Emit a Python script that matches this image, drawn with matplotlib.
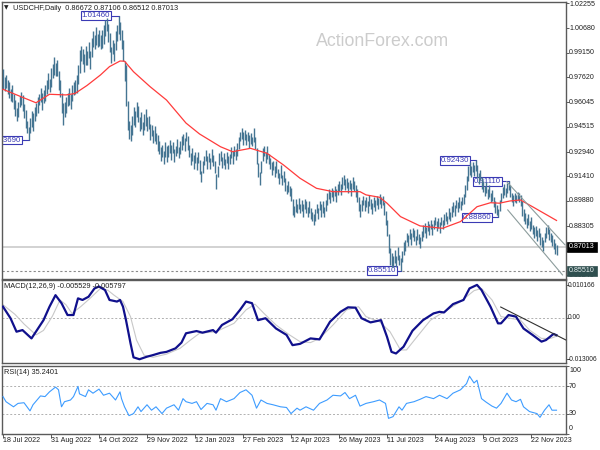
import numpy as np
import matplotlib
matplotlib.use("Agg")
import matplotlib.pyplot as plt

plt.rcParams['font.family'] = ['Liberation Sans', 'DejaVu Sans']

# ---------------- data (prices in 1e-4 units) ----------------
bar_mid_pips = [
    9750, 9720, 9735, 9700, 9680, 9650, 9660, 9610, 9570, 9530,
    9560, 9610, 9630, 9600, 9550, 9500, 9450, 9410, 9460, 9500,
    9480, 9530, 9560, 9590, 9620, 9650, 9610, 9640, 9660, 9700,
    9740, 9710, 9760, 9800, 9830, 9810, 9820, 9740, 9690, 9600,
    9530, 9560, 9590, 9620, 9640, 9610, 9660, 9690, 9700, 9720,
    9780, 9860, 9910, 9890, 9850, 9900, 9880, 9930, 9870, 9950,
    10000, 9980, 10020, 9990, 10010, 9980, 10000, 10030, 10070, 10090,
    10040, 9980, 9900, 9950, 9920, 9990, 10040, 10090, 10050, 10000,
    9930, 9800, 9710, 9520, 9430, 9410, 9460, 9520, 9500, 9560,
    9530, 9470, 9490, 9440, 9480, 9510, 9470, 9480, 9420, 9430,
    9390, 9410, 9380, 9350, 9320, 9280, 9300, 9260, 9310, 9280,
    9300, 9330, 9290, 9320, 9270, 9300, 9330, 9290, 9320, 9350,
    9370, 9340, 9390, 9350, 9300, 9250, 9280, 9230, 9260, 9220,
    9260, 9200, 9140, 9200, 9240, 9270, 9230, 9260, 9220, 9270,
    9240, 9200, 9110, 9170, 9250, 9270, 9230, 9250, 9220, 9260,
    9230, 9250, 9290, 9260, 9300, 9280, 9310, 9350, 9390, 9410,
    9380, 9400, 9370, 9390, 9360, 9380, 9360, 9400, 9350, 9270,
    9180, 9130, 9200, 9280, 9300, 9260, 9290, 9250, 9220, 9190,
    9210, 9170, 9200, 9160, 9130, 9170, 9120, 9140, 9090, 9060,
    9080, 9050, 9030, 8950, 8920, 8960, 8940, 8970, 8940, 8960,
    8930, 8970, 8950, 8920, 8950, 8910, 8890, 8870, 8900, 8940,
    8910, 8960, 8930, 8950, 8920, 8960, 9000, 9030, 9010, 9040,
    9020, 9050, 9020, 9060, 9080, 9060, 9100, 9120, 9090, 9100,
    9070, 9090, 9060, 9100, 9080, 9050, 9020, 8970, 8930, 8960,
    8990, 8960, 8980, 8950, 8990, 8970, 8940, 8980, 8960, 8990,
    8970, 9000, 8980, 8990, 8940, 8880, 8820, 8720, 8640, 8620,
    8610, 8640, 8610, 8660, 8620, 8590, 8640, 8690, 8710, 8760,
    8740, 8780, 8750, 8790, 8770, 8740, 8780, 8750, 8730, 8770,
    8800, 8820, 8790, 8830, 8810, 8840, 8810, 8840, 8860, 8830,
    8850, 8820, 8860, 8840, 8870, 8890, 8870, 8910, 8890, 8920,
    8950, 8930, 8970, 8950, 8980, 8960, 8990, 9000, 9050, 9100,
    9160, 9190, 9170, 9200, 9180, 9210, 9170, 9130, 9150, 9100,
    9080, 9050, 9070, 9030, 9050, 9010, 9020, 8980, 8950, 8930,
    8910, 8960, 9010, 9040, 9060, 9040, 9070, 9085, 9050, 9010,
    8990, 9010, 9000, 9020, 9010, 8990, 8940, 8900, 8880, 8850,
    8870, 8830, 8850, 8810, 8790, 8800, 8770, 8790, 8750, 8730,
    8710, 8760, 8790, 8810, 8780, 8760, 8740, 8720, 8690, 8681,
]
bar_range_pips = [
    120, 90, 80, 90, 100, 80, 110, 90, 100, 80,
    90, 70, 80, 100, 90, 110, 80, 80, 90, 100,
    110, 90, 80, 100, 70, 90, 110, 80, 100, 90,
    100, 80, 120, 90, 110, 80, 100, 120, 110, 130,
    140, 90, 100, 80, 110, 90, 100, 80, 90, 110,
    120, 140, 100, 90, 110, 120, 90, 100, 110, 120,
    100, 90, 110, 80, 100, 90, 110, 120, 100, 80,
    110, 120, 100, 90, 110, 120, 100, 112, 110, 120,
    130, 130, 260, 180, 110, 100, 120, 110, 100, 90,
    100, 90, 110, 80, 100, 110, 90, 80, 100, 70,
    80, 90, 70, 100, 80, 90, 70, 80, 90, 100,
    70, 80, 90, 70, 80, 60, 90, 70, 80, 90,
    70, 80, 60, 90, 80, 70, 80, 90, 70, 80,
    70, 90, 70, 80, 60, 70, 80, 60, 70, 80,
    70, 80, 90, 70, 80, 60, 70, 80, 60, 70,
    80, 60, 70, 80, 60, 70, 80, 70, 60, 70,
    80, 60, 70, 60, 80, 70, 60, 90, 80, 100,
    90, 80, 70, 80, 60, 70, 80, 60, 70, 80,
    60, 70, 80, 60, 70, 80, 60, 70, 80, 60,
    70, 60, 80, 100, 70, 80, 60, 70, 60, 70,
    80, 60, 70, 60, 80, 70, 60, 70, 80, 60,
    70, 60, 80, 70, 60, 70, 80, 60, 70, 60,
    70, 60, 80, 70, 60, 70, 80, 60, 70, 60,
    70, 60, 80, 70, 60, 70, 80, 90, 80, 70,
    60, 70, 60, 80, 70, 60, 70, 60, 70, 60,
    70, 60, 70, 60, 80, 90, 100, 120, 110, 90,
    70, 80, 70, 80, 60, 78, 70, 80, 70, 60,
    70, 60, 70, 60, 70, 60, 70, 60, 70, 60,
    70, 60, 70, 60, 70, 60, 70, 60, 50, 60,
    60, 70, 50, 60, 70, 60, 50, 70, 60, 70,
    60, 70, 50, 60, 70, 60, 50, 60, 80, 90,
    90, 80, 70, 60, 70, 66, 80, 70, 60, 80,
    70, 60, 70, 60, 70, 60, 70, 60, 70, 60,
    50, 70, 60, 70, 70, 60, 60, 52, 70, 60,
    70, 60, 50, 50, 60, 70, 90, 80, 70, 60,
    70, 60, 70, 60, 70, 60, 70, 60, 70, 60,
    70, 60, 70, 60, 70, 60, 70, 60, 70, 59,
]

ema_idx = [0, 12, 22, 31, 42, 48, 56, 65, 71, 78, 81, 87, 98, 109, 122, 131,
           145, 153, 165, 176, 187, 198, 209, 220, 231, 238, 242, 251, 256,
           265, 278, 293, 305, 316, 325, 331, 338, 345, 353, 369]
ema_pips = [9686, 9640, 9602, 9655, 9651, 9660, 9710, 9776, 9828, 9863, 9862,
            9796, 9703, 9619, 9475, 9407, 9327, 9296, 9317, 9286, 9213, 9130,
            9067, 9046, 9046, 9046, 9026, 9011, 8974, 8890, 8832, 8817, 8859,
            8952, 8977, 8974, 8988, 8994, 8952, 8866]

macd_idx = [0, 5, 9, 13, 19, 27, 31, 35, 39, 43, 47, 50, 53, 57, 61, 64, 68,
            71, 76, 78, 80, 82, 85, 87, 91, 96, 100, 105, 109, 115, 119, 122,
            129, 133, 140, 142, 146, 153, 158, 162, 166, 170, 175, 182, 189,
            193, 198, 205, 211, 218, 225, 230, 235, 239, 245, 252, 256, 259,
            262, 267, 273, 280, 287, 291, 294, 300, 307, 311, 316, 319, 325,
            330, 332, 337, 342, 347, 353, 359, 362, 367, 369]
macd_val = [0.0034, -0.0002, -0.0044, -0.0039, -0.0065, -0.0008, 0.0034,
            0.0070, 0.0045, 0.0008, 0.0008, 0.0060, 0.0055, 0.0065, 0.0091,
            0.0097, 0.0086, 0.0055, 0.0050, 0.0055, 0.0034, -0.0008, -0.0080,
            -0.0124, -0.0130, -0.0122, -0.0117, -0.0110, -0.0107, -0.0096,
            -0.0078, -0.0049, -0.0042, -0.0047, -0.0039, -0.0047, -0.0023,
            -0.0005, 0.0024, 0.0050, 0.0045, -0.0008, -0.0002, -0.0034,
            -0.0054, -0.0086, -0.0082, -0.0065, -0.0068, -0.0013, 0.0018,
            0.0032, 0.0031, -0.0002, -0.0015, -0.0008, -0.0060, -0.0107,
            -0.0112, -0.0091, -0.0041, -0.0008, 0.0013, 0.0018, 0.0016,
            0.0042, 0.0055, 0.0091, 0.0102, 0.0086, 0.0034, -0.0018, -0.0018,
            0.0008, 0.0003, -0.0034, -0.0054, -0.0075, -0.0070, -0.0051,
            -0.0055]

signal_idx = [0, 8, 14, 22, 27, 33, 38, 42, 46, 52, 58, 65, 70, 74, 80, 85,
              89, 94, 100, 109, 118, 125, 131, 142, 154, 162, 168, 174, 182,
              191, 198, 205, 211, 220, 229, 237, 242, 251, 258, 265, 269, 276,
              285, 294, 305, 314, 319, 326, 332, 338, 345, 351, 359, 365, 369]
signal_val = [0.0040, 0.0010, -0.0020, -0.0054, -0.0040, 0.0005, 0.0055,
              0.0040, 0.0013, 0.0035, 0.0060, 0.0091, 0.0085, 0.0070, 0.0050,
              0.0003, -0.0070, -0.0117, -0.0124, -0.0114, -0.0096, -0.0070,
              -0.0049, -0.0044, -0.0018, 0.0024, 0.0042, 0.0013, -0.0023,
              -0.0054, -0.0075, -0.0078, -0.0065, -0.0023, 0.0024, 0.0034,
              0.0003, -0.0013, -0.0044, -0.0101, -0.0101, -0.0060, -0.0008,
              0.0018, 0.0050, 0.0084, 0.0091, 0.0055, 0.0003, -0.0002, -0.0008,
              -0.0039, -0.0065, -0.0065, -0.0058]

rsi_idx = [0, 2, 7, 10, 14, 18, 20, 25, 28, 31, 35, 37, 39, 41, 45, 47, 50,
           51, 55, 57, 60, 64, 67, 71, 75, 78, 79, 81, 84, 87, 90, 92, 96, 99,
           102, 106, 109, 114, 117, 120, 122, 126, 129, 132, 136, 140, 142,
           145, 149, 154, 158, 162, 166, 169, 172, 176, 180, 185, 189, 192,
           196, 198, 202, 207, 211, 216, 220, 225, 228, 231, 235, 238, 242,
           247, 251, 255, 257, 260, 264, 266, 269, 274, 278, 282, 287, 291,
           296, 300, 305, 309, 311, 314, 316, 319, 322, 326, 329, 332, 336,
           339, 342, 345, 347, 351, 356, 358, 361, 364, 366, 369]
rsi_val = [55, 47.5, 40, 45, 46, 34, 43, 56, 55, 62, 69, 65, 40, 47.5, 50, 55,
           70, 59, 55, 65, 60, 66, 57, 60, 50, 62, 52, 40, 27, 30, 40, 33, 43,
           35, 40, 30, 38, 43, 35, 52, 47.5, 45, 47.5, 36, 45, 43, 35, 52,
           47.5, 52, 61, 65, 57, 38, 50, 45, 43, 40, 39, 30, 38, 35, 40, 35,
           45, 50, 57, 56, 61, 52, 57, 41, 45, 47.5, 50, 45, 23, 25.5, 40, 35,
           45, 47.5, 51, 55, 52, 57, 52, 60, 65, 74, 85, 75, 79, 52, 47, 41,
           38, 45, 60, 50, 47.5, 51, 40, 33, 30, 24.5, 35, 43, 35, 35]

price_ticks = [1.02255, 1.00680, 0.99150, 0.97620, 0.96045, 0.94515, 0.92940,
               0.91410, 0.89880, 0.88305, 0.86775, 0.85245]
price_tick_labels = ['1.02255', '1.00680', '0.99150', '0.97620', '0.96045',
                     '0.94515', '0.92940', '0.91410', '0.89880', '0.88305',
                     '0.86775', '0.85245']
macd_ticks = [0.010166, 0.0, -0.013006]
macd_tick_labels = ['0.010166', '0.00', '-0.013006']
rsi_ticks = [100, 70, 30, 0]
rsi_tick_labels = ['100', '70', '30', '0']
rsi_levels = [70, 30]

date_idx = [0, 32, 64, 96, 128, 160, 192, 224, 256, 288, 320, 352]
date_labels = ['18 Jul 2022', '31 Aug 2022', '14 Oct 2022', '29 Nov 2022',
               '12 Jan 2023', '27 Feb 2023', '12 Apr 2023', '26 May 2023',
               '11 Jul 2023', '24 Aug 2023', '9 Oct 2023', '22 Nov 2023']

swing_idx = [77, 17, 315, 337, 330, 265]
swing_price = [1.01460, 0.93690, 0.92430, 0.91110, 0.88860, 0.85510]
swing_text = ['1.01460', '0.93690', '0.92430', '0.91110', '0.88860', '0.85510']
swing_box_right = [72.0, 12.7, 311.3, 332.7, 326.0, 262.7]

last_price = 0.87013
support_price = 0.85510
channel_upper_idx = [335.8, 374.7]
channel_upper_val = [0.91086, 0.87130]
channel_lower_idx = [336.5, 373.0]
channel_lower_val = [0.89320, 0.85255]
macd_trend_idx = [331.8, 375.3]
macd_trend_val = [0.00330, -0.00700]

title_text = 'USDCHF,Daily  0.86672 0.87106 0.86512 0.87013'
macd_title = 'MACD(12,26,9) -0.005529 -0.005797'
rsi_title = 'RSI(14) 35.2401'

# ---------------- figure ----------------
W, H = 600, 450
fig = plt.figure(figsize=(6, 4.5), dpi=100, facecolor='white')

def add_panel(top, bottom):
    return fig.add_axes([2 / W, 1 - bottom / H, 564 / W, (bottom - top) / H])

ax = add_panel(2, 279)
axm = add_panel(280, 363)
axr = add_panel(366, 434)

XL = (-0.67, 375.33)
spine_col = '#5a5a5a'
for a in (ax, axm, axr):
    a.set_xlim(*XL)
    a.set_facecolor('white')
    for s in a.spines.values():
        s.set_color(spine_col)
        s.set_linewidth(1.0)
    a.tick_params(axis='y', left=False, right=True, labelleft=False,
                  labelright=False, length=2.5, width=0.7, color=spine_col,
                  direction='out')
    a.tick_params(axis='x', bottom=False, labelbottom=False)

lab_font = 5.1
lab_col = '#202020'

# ---- main price panel ----
ax.set_ylim(0.8500, 1.0232)
idx = np.arange(len(bar_mid_pips))
mids = np.array(bar_mid_pips) / 1e4
rng = np.array(bar_range_pips) / 1e4
ax.vlines(idx, mids - rng / 2, mids + rng / 2, colors='#457592',
          linewidth=1.0, zorder=3)
ax.plot(ema_idx, np.array(ema_pips) / 1e4, color='#ff3b3b', lw=0.9, zorder=4)

ax.axhline(last_price, color='#cfcfcf', lw=1.3, zorder=1)
ax.axhline(support_price, color='#8a8a8a', lw=0.8, ls=(0, (2, 2)), zorder=1)
ax.plot(channel_upper_idx, channel_upper_val, color='#8c9c9c', lw=0.8, zorder=4)
ax.plot(channel_lower_idx, channel_lower_val, color='#8c9c9c', lw=0.8, zorder=4)

box_col = '#3a3ab4'
for bi, bp, bt, br in zip(swing_idx, swing_price, swing_text, swing_box_right):
    ax.plot([br, bi], [bp, bp], color=box_col, lw=0.8, zorder=2)
    ax.text(br - 0.6, bp, bt, ha='right', va='center', fontsize=5.7,
            color=box_col, zorder=2, clip_on=True,
            bbox=dict(boxstyle='square,pad=0.12', fc='white', ec=box_col, lw=0.8))

ax.set_yticks(price_ticks)
for v, t in zip(price_ticks, price_tick_labels):
    off = -1.5 if v == price_ticks[0] else 0
    ax.annotate(t, xy=(1, v), xycoords=('axes fraction', 'data'),
                xytext=(3, off), textcoords='offset pixels', ha='left',
                va='center', fontsize=lab_font, color=lab_col,
                annotation_clip=False)
ax.annotate('0.87013', xy=(1, last_price), xycoords=('axes fraction', 'data'),
            xytext=(3, 0), textcoords='offset pixels', ha='left', va='center',
            fontsize=lab_font, color='white', annotation_clip=False, zorder=10,
            bbox=dict(boxstyle='square,pad=0.25', fc='black', ec='black', lw=0.5))
ax.annotate('0.85510', xy=(1, support_price), xycoords=('axes fraction', 'data'),
            xytext=(3, 0), textcoords='offset pixels', ha='left', va='center',
            fontsize=lab_font, color='#e8f0f0', annotation_clip=False, zorder=10,
            bbox=dict(boxstyle='square,pad=0.25', fc='#2f4f4f', ec='#2f4f4f', lw=0.5))

fig.text(4 / W, 1 - 8 / H, '\u25bc', fontsize=4.2, color='#202020',
         va='center', ha='left', family='DejaVu Sans')
fig.text(13 / W, 1 - 8 / H, title_text, fontsize=5.3, color='#202020',
         va='center', ha='left')
fig.text(316 / W, 1 - 41 / H, 'ActionForex.com', fontsize=12.8,
         color='#cccccc', va='center', ha='left')

# ---- MACD panel ----
axm.set_ylim(-0.01417, 0.01173)
axm.axhline(0.0, color='#b0b0b0', lw=0.7, ls=(0, (2, 2)), zorder=1)
axm.plot(signal_idx, signal_val, color='#c8c8c8', lw=0.8, zorder=2)
axm.plot(macd_idx, macd_val, color='#10108c', lw=1.6, zorder=3)
axm.plot(macd_trend_idx, macd_trend_val, color='#303030', lw=0.8, zorder=4)
axm.set_yticks(macd_ticks)
for v, t in zip(macd_ticks, macd_tick_labels):
    axm.annotate(t, xy=(1, v), xycoords=('axes fraction', 'data'),
                 xytext=(2, 0), textcoords='offset pixels', ha='left',
                 va='center', fontsize=4.8, color=lab_col,
                 annotation_clip=False)
fig.text(4 / W, 1 - 286 / H, macd_title, fontsize=5.3, color='#202020',
         va='center', ha='left')

# ---- RSI panel ----
axr.set_ylim(0, 100)
for lv in rsi_levels:
    axr.axhline(lv, color='#b0b0b0', lw=0.7, ls=(0, (2, 2)), zorder=1)
axr.plot(rsi_idx, rsi_val, color='#3d9cff', lw=0.8, zorder=3)
axr.set_yticks(rsi_ticks)
rsi_offsets = {100: -4, 70: 0, 30: 0, 0: 5}
for v, t in zip(rsi_ticks, rsi_tick_labels):
    axr.annotate(t, xy=(1, v), xycoords=('axes fraction', 'data'),
                 xytext=(3, rsi_offsets[v]), textcoords='offset pixels',
                 ha='left', va='center', fontsize=lab_font, color=lab_col,
                 annotation_clip=False)
fig.text(4 / W, 1 - 372 / H, rsi_title, fontsize=5.3, color='#202020',
         va='center', ha='left')

axr.set_xticks(date_idx)
axr.tick_params(axis='x', bottom=True, length=3, width=0.7, color=spine_col,
                direction='out', labelbottom=False)
for di, dl in zip(date_idx, date_labels):
    axr.annotate(dl, xy=(di, 0), xycoords=('data', 'axes fraction'),
                 xytext=(0, -7), textcoords='offset pixels', ha='left',
                 va='center', fontsize=lab_font, color=lab_col,
                 annotation_clip=False)

fig.savefig('out.png', dpi=100, facecolor='white')
